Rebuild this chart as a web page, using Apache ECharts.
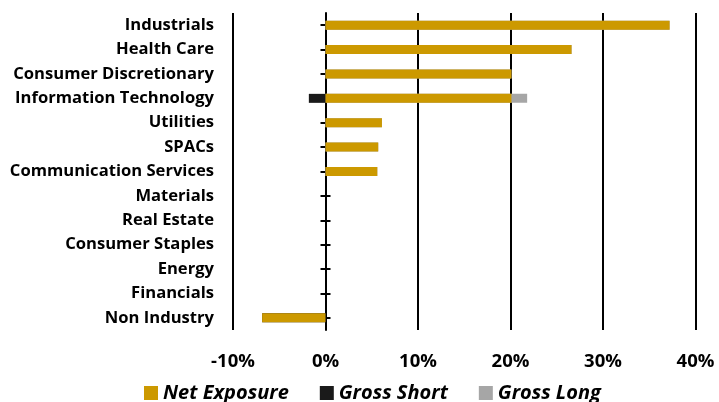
<!DOCTYPE html>
<html><head><meta charset="utf-8">
<script src="https://cdn.jsdelivr.net/npm/echarts@6/dist/echarts.min.js"></script>
<style>html,body{margin:0;padding:0;background:#fff}#c{width:719px;height:402px}</style>
</head><body><div id="c"></div>
<script>
const categories = ["Industrials","Health Care","Consumer Discretionary","Information Technology","Utilities","SPACs","Communication Services","Materials","Real Estate","Consumer Staples","Energy","Financials","Non Industry"];
const netExposure = [37.2, 26.6, 20.1, 20.1, 6.1, 5.7, 5.6, 0, 0, 0, 0, 0, -6.85];
const grossShort  = [0, 0, 0, -1.8, 0, 0, 0, 0, 0, 0, 0, 0, -6.85];
const grossLong   = [37.2, 26.6, 20.1, 21.8, 6.1, 5.7, 5.6, 0, 0, 0, 0, 0, 0];
const xTicks = [-10, 0, 10, 20, 30, 40];

const FONT = 'Open Sans';
const chart = echarts.init(document.getElementById('c'));
const tickAxisBase = {
  type: 'category', data: categories, inverse: true,
  axisLabel: {show: false}, splitLine: {show: false},
  axisTick: {show: true, alignWithLabel: true, length: 5, lineStyle: {color: '#000', width: 2}}
};
chart.setOption({
  animation: false,
  grid: {left: 233, right: 23.5, top: 13, bottom: 72},
  xAxis: {
    type: 'value', min: xTicks[0], max: xTicks[xTicks.length-1], interval: 10,
    axisLine: {show: false}, axisTick: {show: false},
    splitLine: {show: true, lineStyle: {color: '#000', width: 2}},
    axisLabel: {formatter: v => v + '%', margin: 22, fontFamily: FONT, fontWeight: 'bold', fontSize: 18.5, color: '#000'}
  },
  yAxis: [
    {type: 'category', data: categories, inverse: true,
     axisLine: {show: false, onZero: false}, axisTick: {show: false},
     axisLabel: {margin: 19, fontFamily: FONT, fontWeight: 'bold', fontSize: 16.6, color: '#000', padding: [2, 0, 0, 0]}},
    Object.assign({}, tickAxisBase, {position: 'left', axisLine: {show: true, onZero: true, onZeroAxisIndex: 0, lineStyle: {color: '#000', width: 2}}}),
    Object.assign({}, tickAxisBase, {position: 'right', axisLine: {show: false, onZero: true, onZeroAxisIndex: 0}})
  ],
  legend: {
    data: ['Net Exposure', 'Gross Short', 'Gross Long'],
    left: 139, top: 378, itemWidth: 14, itemHeight: 14, itemGap: 31, icon: 'rect',
    textStyle: {fontFamily: FONT, fontWeight: 'bold', fontStyle: 'italic', fontSize: 20, color: '#000'}
  },
  series: [
    {name: 'Gross Long', type: 'bar', data: grossLong, barWidth: 9, barGap: '-100%', itemStyle: {color: '#a6a6a6'}},
    {name: 'Gross Short', type: 'bar', data: grossShort, barWidth: 9, barGap: '-100%', itemStyle: {color: '#1a1a1a'}},
    {name: 'Net Exposure', type: 'bar', data: netExposure, barWidth: 9, barGap: '-100%', itemStyle: {color: '#cc9900'}}
  ]
});
</script></body></html>
